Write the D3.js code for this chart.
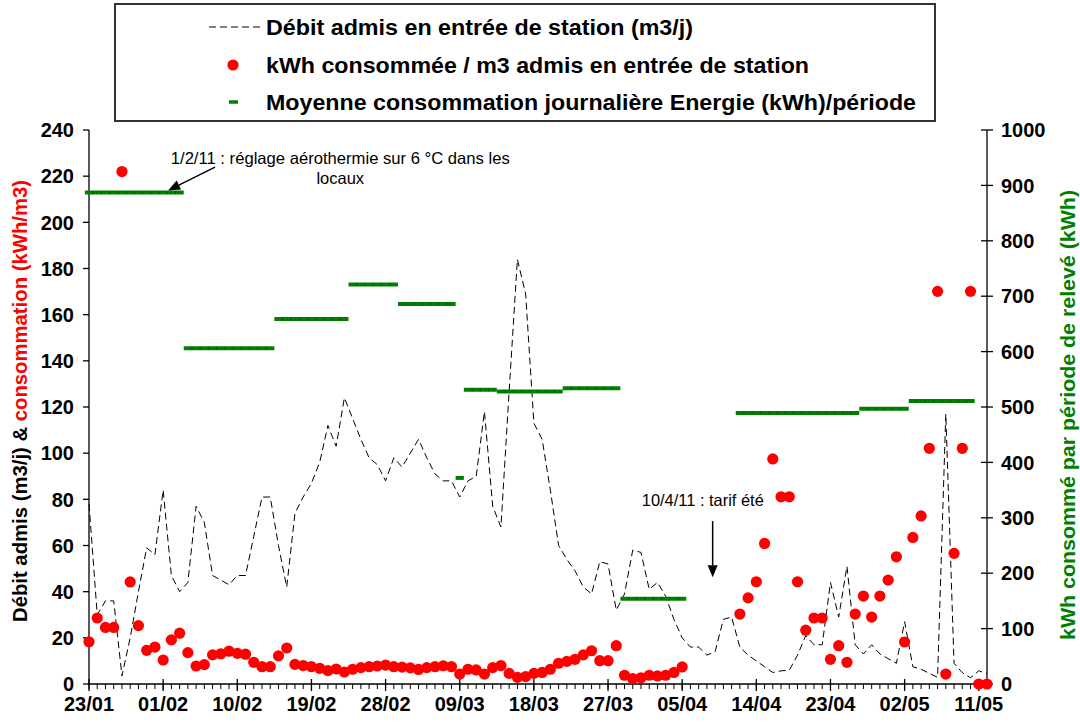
<!DOCTYPE html>
<html><head><meta charset="utf-8">
<script src="https://cdn.jsdelivr.net/npm/d3@7"></script>
<style>
body{margin:0;background:#fff}
svg{display:block}
text{font-family:"Liberation Sans",Arial,Helvetica,sans-serif}
</style>
</head><body>
<svg id="chart" width="1080" height="726"></svg>
<script>
// ---------- DATA ----------
const startDate = "2011-01-23";   // day 0
const endDate   = "2011-05-12";   // end of x domain

// Débit admis en entrée de station (m3/j), one value per day from 23/01
const debit = [
  78, 30, 36, 36, 3.5, 20, 40, 59, 56, 84,
  47, 40, 44, 77, 70, 47, 45, 43, 47, 47,
  64, 81, 81, 60, 42, 74, 81, 87, 96, 112,
  103, 124, 115, 106, 98, 95, 88, 98, 94, 100,
  106, 98, 91, 88, 88, 81, 88, 90, 118, 77,
  68, 127, 184, 169, 113, 106, 84, 60, 54, 49,
  42, 39, 53, 52, 32, 39, 58, 57, 41, 44,
  38, 28, 20, 16, 16, 12.5, 14, 28, 29, 16,
  12.5, 10, 7.5, 5, 5.7, 6, 12.5, 21, 17, 17,
  44, 29, 51, 17, 13, 17, 13, 11, 9, 27,
  7.5, 6.4, 4.6, 2.9, 117, 9, 4.9, 2.7, 5.7, 4.6
];

// kWh consommée / m3 admis, one value per day from 23/01 (null = no value)
const ratio = [
  18.3, 28.6, 24.5, 24.5, 222, 44.2, 25.3, 14.6, 16.0, 10.4,
  19.1, 22.0, 13.6, 7.8, 8.4, 12.6, 13.1, 14.2, 13.3, 12.9,
  9.4, 7.5, 7.5, 12.2, 15.6, 8.5, 8.0, 7.5, 6.8, 5.8,
  6.5, 5.2, 6.4, 7.1, 7.5, 7.8, 8.2, 7.5, 7.3, 7.0,
  6.3, 7.1, 7.5, 7.9, 7.5, 4.3, 6.4, 6.1, 4.3, 7.1,
  8.0, 4.6, 2.9, 3.2, 4.6, 5.0, 6.4, 9.0, 9.8, 10.7,
  12.6, 14.4, 10.1, 10.1, 16.6, 3.8, 2.3, 2.7, 3.8, 3.5,
  3.8, 5.0, 7.4, null, null, null, null, null, null, 30.3,
  37.3, 44.3, 60.9, 97.5, 81.1, 81.1, 44.3, 23.3, 28.6, 28.6,
  10.7, 16.6, 9.4, 30.3, 38.1, 29.0, 38.1, 45.0, 55.1, 18.2,
  63.5, 72.8, 102.1, 170.1, 4.3, 56.6, 102.1, 170.1, 0, 0
];

// Moyenne consommation journalière Energie (kWh) par période de relevé
const periodFirst  = ["2011-01-23","2011-02-04","2011-02-15","2011-02-24","2011-03-02","2011-03-09","2011-03-10","2011-03-14","2011-03-22","2011-03-29","2011-04-12","2011-04-27","2011-05-03"];
const periodLast   = ["2011-02-03","2011-02-14","2011-02-23","2011-03-01","2011-03-08","2011-03-09","2011-03-13","2011-03-21","2011-03-28","2011-04-05","2011-04-26","2011-05-02","2011-05-10"];
const periodEnergy = [887, 606, 659, 721, 686, 372, 531, 528, 534, 154, 489, 497, 511];

const xTickLabels = ["23/01","01/02","10/02","19/02","28/02","09/03","18/03","27/03","05/04","14/04","23/04","02/05","11/05"];
const leftTicks  = [0,20,40,60,80,100,120,140,160,180,200,220,240];
const rightTicks = [0,100,200,300,400,500,600,700,800,900,1000];

const legendLabels = [
  "Débit admis en entrée de station (m3/j)",
  "kWh consommée / m3 admis en entrée de station",
  "Moyenne consommation journalière Energie (kWh)/période"
];

// ---------- CHART ----------
(function () {
const svg = d3.select("#chart");
const parse = d3.utcParse("%Y-%m-%d");
const t0 = parse(startDate), t1 = parse(endDate);
const dayDate = i => t0.getTime() + i * 864e5;

const pL = 89, pR = 987, pT = 130, pB = 684;
const x = d3.scaleUtc().domain([t0, t1]).range([pL, pR]);
const yL = d3.scaleLinear().domain([0, 240]).range([pB, pT]);
const yR = d3.scaleLinear().domain([0, 1000]).range([pB, pT]);
const dayW = x(dayDate(1)) - x(dayDate(0));

const red = "#ff0000", green = "#008000";

// x axis: minor daily ticks
const axisG = svg.append("g");
const nDays = d3.utcDay.count(t0, t1);
axisG.selectAll("line.minor").data(d3.range(0, nDays + 1)).join("line")
  .attr("x1", d => x(dayDate(d))).attr("x2", d => x(dayDate(d)))
  .attr("y1", pB).attr("y2", pB + 5)
  .attr("stroke", "#000").attr("stroke-width", 1);

const tickDates = xTickLabels.map(s => {
  const [dd, mm] = s.split("/").map(Number);
  return Date.UTC(2011, mm - 1, dd);
});
axisG.selectAll("line.major").data(tickDates).join("line")
  .attr("x1", d => x(d)).attr("x2", d => x(d))
  .attr("y1", pB - 5).attr("y2", pB + 7)
  .attr("stroke", "#000").attr("stroke-width", 1.3);
axisG.selectAll("text.xl").data(xTickLabels).join("text")
  .attr("x", (d, i) => x(tickDates[i])).attr("y", pB + 27)
  .attr("text-anchor", "middle").attr("font-size", 20).attr("font-weight", "bold")
  .text(d => d);
axisG.append("line").attr("x1", pL).attr("x2", pR).attr("y1", pB).attr("y2", pB)
  .attr("stroke", "#000").attr("stroke-width", 1.3);

// left axis
axisG.append("line").attr("x1", pL).attr("x2", pL).attr("y1", pT).attr("y2", pB)
  .attr("stroke", "#000").attr("stroke-width", 1.3);
axisG.selectAll("line.lt").data(leftTicks).join("line")
  .attr("x1", pL - 6).attr("x2", pL).attr("y1", d => yL(d)).attr("y2", d => yL(d))
  .attr("stroke", "#000").attr("stroke-width", 1.3);
axisG.selectAll("text.lt").data(leftTicks).join("text")
  .attr("x", pL - 15).attr("y", d => yL(d)).attr("dy", "0.36em")
  .attr("text-anchor", "end").attr("font-size", 20).attr("font-weight", "bold")
  .text(d => d);

// right axis
axisG.append("line").attr("x1", pR).attr("x2", pR).attr("y1", pT).attr("y2", pB)
  .attr("stroke", "#000").attr("stroke-width", 1.3);
axisG.selectAll("line.rt").data(rightTicks).join("line")
  .attr("x1", pR - 6).attr("x2", pR + 6).attr("y1", d => yR(d)).attr("y2", d => yR(d))
  .attr("stroke", "#000").attr("stroke-width", 1.3);
axisG.selectAll("text.rt").data(rightTicks).join("text")
  .attr("x", pR + 14).attr("y", d => yR(d)).attr("dy", "0.36em")
  .attr("text-anchor", "start").attr("font-size", 20).attr("font-weight", "bold")
  .text(d => d);

// axis titles
const lt = svg.append("text")
  .attr("transform", `translate(20,401) rotate(-90)`)
  .attr("text-anchor", "middle").attr("dominant-baseline", "central")
  .attr("font-size", 20).attr("font-weight", "bold")
  .attr("textLength", 442).attr("lengthAdjust", "spacingAndGlyphs");
lt.append("tspan").attr("fill", "#000").text("Débit admis (m3/j) & ");
lt.append("tspan").attr("fill", red).text("consommation (kWh/m3)");

svg.append("text")
  .attr("transform", `translate(1068,415) rotate(-90)`)
  .attr("text-anchor", "middle").attr("dominant-baseline", "central")
  .attr("font-size", 20).attr("font-weight", "bold").attr("fill", green)
  .attr("textLength", 450).attr("lengthAdjust", "spacingAndGlyphs")
  .text("kWh consommé par période de relevé (kWh)");

// débit dashed line
const line = d3.line().x((d, i) => x(dayDate(i))).y(d => yL(d));
svg.append("path").datum(debit).attr("d", line)
  .attr("fill", "none").attr("stroke", "#000").attr("stroke-width", 1)
  .attr("stroke-dasharray", "7,4");

// green period segments
const gG = svg.append("g");
periodEnergy.forEach((v, i) => {
  const a = parse(periodFirst[i]).getTime(), b = parse(periodLast[i]).getTime();
  const xa = x(a) - dayW / 2, xb = x(b) + dayW / 2;
  gG.append("line").attr("x1", xa).attr("x2", xb).attr("y1", yR(v)).attr("y2", yR(v))
    .attr("stroke", green).attr("stroke-width", 4);
  const days = d3.range(a, b + 864e5 / 2, 864e5);
  gG.append("g").selectAll("line").data(days.slice(1)).join("line")
    .attr("x1", d => x(d) - dayW / 2).attr("x2", d => x(d) - dayW / 2)
    .attr("y1", yR(v) - 1.5).attr("y2", yR(v) + 1.5)
    .attr("stroke", "#005a00").attr("stroke-width", 1);
});

// red dots
svg.append("g").selectAll("circle")
  .data(ratio.map((v, i) => ({v, i})).filter(d => d.v !== null))
  .join("circle")
  .attr("cx", d => x(dayDate(d.i))).attr("cy", d => yL(d.v)).attr("r", 5.6)
  .attr("fill", red);

// annotations
const ann = svg.append("g");
ann.append("text").attr("x", x(dayDate(30.5))).attr("y", yL(225.4))
  .attr("text-anchor", "middle").attr("font-size", 16.5)
  .attr("textLength", 339).attr("lengthAdjust", "spacingAndGlyphs")
  .text("1/2/11 : réglage aérothermie sur 6 °C dans les");
ann.append("text").attr("x", x(dayDate(30.5))).attr("y", yL(216.7))
  .attr("text-anchor", "middle").attr("font-size", 16.5)
  .text("locaux");
function arrow(x1, y1, x2, y2) {
  const ang = Math.atan2(y2 - y1, x2 - x1), L = 12, W = 5;
  const bx = x2 - L * Math.cos(ang), by = y2 - L * Math.sin(ang);
  ann.append("line").attr("x1", x1).attr("y1", y1).attr("x2", bx).attr("y2", by)
    .attr("stroke", "#000").attr("stroke-width", 1.5);
  ann.append("path").attr("fill", "#000")
    .attr("d", `M${x2},${y2}L${bx + W * Math.sin(ang)},${by - W * Math.cos(ang)}L${bx - W * Math.sin(ang)},${by + W * Math.cos(ang)}Z`);
}
arrow(x(dayDate(15.3)), yR(933), x(dayDate(9.6)), yR(891));
ann.append("text").attr("x", x(dayDate(67.1))).attr("y", yL(77.0))
  .attr("font-size", 16.5).attr("textLength", 122).attr("lengthAdjust", "spacingAndGlyphs")
  .text("10/4/11 : tarif été");
arrow(x(dayDate(75.7)), yL(70.6), x(dayDate(75.7)), yL(46.2));

// legend
const lg = svg.append("g");
lg.append("rect").attr("x", 115).attr("y", 4).attr("width", 820).attr("height", 117)
  .attr("fill", "#fff").attr("stroke", "#333").attr("stroke-width", 2);
const rowsY = [27, 65, 102];
const rowsW = [427, 543, 650];
lg.append("line").attr("x1", 209).attr("x2", 261).attr("y1", rowsY[0]).attr("y2", rowsY[0])
  .attr("stroke", "#000").attr("stroke-width", 1).attr("stroke-dasharray", "7,4");
lg.append("circle").attr("cx", 233).attr("cy", rowsY[1]).attr("r", 5.6).attr("fill", red);
lg.append("line").attr("x1", 229).attr("x2", 238).attr("y1", rowsY[2]).attr("y2", rowsY[2])
  .attr("stroke", green).attr("stroke-width", 3.5);
lg.selectAll("text").data(legendLabels).join("text")
  .attr("x", 266).attr("y", (d, i) => rowsY[i]).attr("dy", "0.36em")
  .attr("font-size", 22).attr("font-weight", "bold")
  .attr("textLength", (d, i) => rowsW[i]).attr("lengthAdjust", "spacingAndGlyphs")
  .text(d => d);
})();
</script>
</body></html>
